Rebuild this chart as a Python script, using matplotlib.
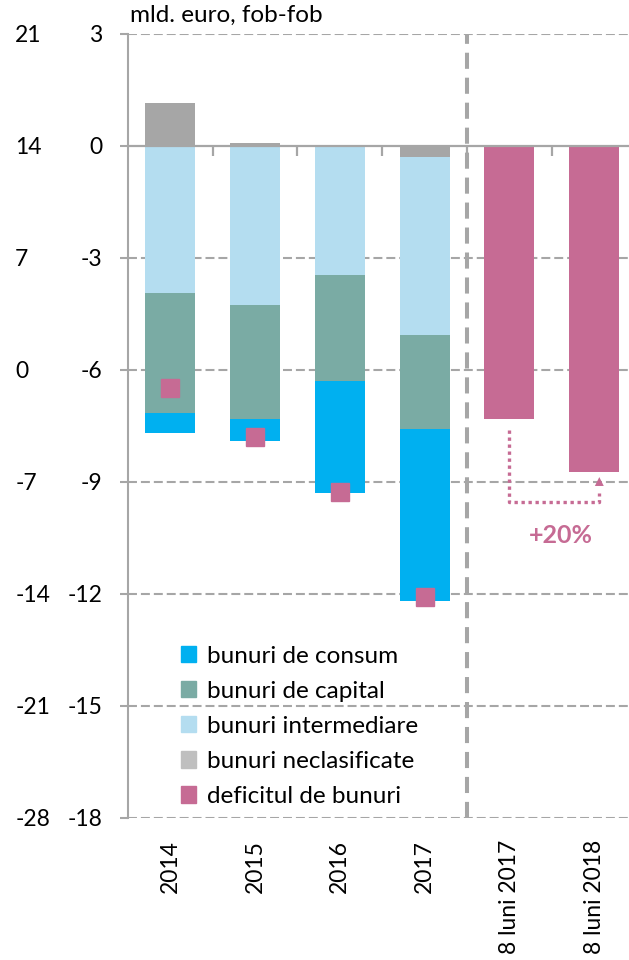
import numpy as np
import matplotlib
matplotlib.use("Agg")
import matplotlib.pyplot as plt
from matplotlib.patches import Patch

plt.rcParams['font.family'] = ['Lato', 'DejaVu Sans']
plt.rcParams['axes.unicode_minus'] = False

# categories
labels = ['2014', '2015', '2016', '2017', '8 luni 2017', '8 luni 2018']

# yearly components (mld. euro), stacked
neclasificate = [1.14, 0.07, 0.0, -0.30]
intermediare = [-3.94, -4.27, -3.46, -4.77]
capital = [-3.22, -3.05, -2.84, -2.52]
consum = [-0.53, -0.59, -3.00, -4.60]
deficit = [-6.49, -7.80, -9.27, -12.09]

# 8 months deficit
deficit_8luni = [-7.32, -8.75]
change_label = '+20%'

# outer (left) scale labels
outer_ticks = [-28, -21, -14, -7, 0, 7, 14, 21]

c_consum = '#00B0F0'
c_capital = '#7AABA4'
c_interm = '#B4DDF0'
c_necl = '#A6A6A6'
c_necl_leg = '#BFBFBF'
c_def = '#C66B94'
c_grid = '#A6A6A6'
fs = 16.5

W, H = 629, 960
fig = plt.figure(figsize=(W / 100, H / 100), dpi=100)
left, right, top, bottom = 127.7, 629, 33.5, 818
ax = fig.add_axes([left / W, 1 - bottom / H, (right - left) / W, (bottom - top) / H])

ymin, ymax = -18, 3
ax.set_ylim(ymin, ymax)
ax.set_xlim(-0.5, 5.41)

x = np.arange(len(neclasificate))
bw = 0.59

necl = np.array(neclasificate)
base = np.minimum(necl, 0)
ax.bar(x, necl, bw, color=c_necl, zorder=3)
ax.bar(x, intermediare, bw, bottom=base, color=c_interm, zorder=3)
base = base + np.array(intermediare)
ax.bar(x, capital, bw, bottom=base, color=c_capital, zorder=3)
base = base + np.array(capital)
ax.bar(x, consum, bw, bottom=base, color=c_consum, zorder=3)

x8 = np.arange(len(x), len(labels))
ax.bar(x8, deficit_8luni, bw, color=c_def, zorder=3)

ax.plot(x, deficit, 's', color=c_def, markersize=13, zorder=4)

# grid
for t in np.arange(ymin, ymax + 1, 3):
    if t != 0:
        ax.axhline(t, color=c_grid, lw=1.5, dashes=(4.3, 1.9), zorder=1)

# separator between years and 8 months
ax.axvline(len(x) - 0.5, color=c_grid, lw=2.9, dashes=(4, 2.2), zorder=2)

# zero line with category ticks
ax.axhline(0, color=c_grid, lw=1.6, zorder=4)
zero_pos = (0 - ymin) / (ymax - ymin)
sec = ax.secondary_xaxis(zero_pos)
sec.set_xticks(np.arange(0.5, len(labels) - 1))
sec.tick_params(axis='x', direction='out', length=7, width=1.6, color=c_grid,
                labelbottom=False, labeltop=False, bottom=True, top=False)
for s in sec.spines.values():
    s.set_visible(False)

for s in ['top', 'right', 'bottom']:
    ax.spines[s].set_visible(False)
ax.spines['left'].set_color(c_grid)
ax.spines['left'].set_linewidth(1.5)

ax.set_yticks(np.arange(ymin, ymax + 1, 3))
ax.tick_params(axis='y', length=6, width=1.5, color=c_grid, pad=12, labelsize=fs)
ax.set_xticks(np.arange(len(labels)))
ax.set_xticklabels(labels, rotation=90, va='top', ha='center')
ax.tick_params(axis='x', length=0, pad=16, labelsize=fs)

# outer scale
ax2 = ax.twinx()
ax2.set_ylim(outer_ticks[0], outer_ticks[-1])
ax2.yaxis.set_ticks_position('left')
ax2.set_yticks(outer_ticks)
ax2.tick_params(axis='y', length=0, pad=81, labelsize=fs)
for lab in ax2.get_yticklabels():
    lab.set_horizontalalignment('left')
for s in ax2.spines.values():
    s.set_visible(False)

ax.text(0.005, 1.01, 'mld. euro, fob-fob', transform=ax.transAxes, fontsize=17.5, va='bottom', ha='left')

# change arrow between the 8-month bars
x0, x1 = x8[0], x8[1] + 0.06
y_low = -9.55
ax.plot([x0, x0, x1, x1], [deficit_8luni[0] - 0.3, y_low, y_low, deficit_8luni[1] - 0.55],
        color=c_def, lw=2.4, linestyle=(0, (1, 1.1)), zorder=5)
ax.annotate('', xy=(x1, deficit_8luni[1] - 0.05), xytext=(x1, deficit_8luni[1] - 0.5),
            arrowprops=dict(arrowstyle='-|>', color=c_def, lw=0, mutation_scale=16), zorder=5)
ax.text((x0 + x1) / 2 + 0.08, y_low - 0.9, change_label, color=c_def, fontsize=18,
        fontweight='bold', ha='center', va='center')

handles = [Patch(color=c_consum), Patch(color=c_capital), Patch(color=c_interm),
           Patch(color=c_necl_leg), Patch(color=c_def)]
names = ['bunuri de consum', 'bunuri de capital', 'bunuri intermediare',
         'bunuri neclasificate', 'deficitul de bunuri']
ax.legend(handles, names, loc='upper left', bbox_to_anchor=(0.086, 0.232), frameon=False,
          fontsize=17.5, handlelength=0.65, handleheight=0.65, handletextpad=0.45,
          labelspacing=0.58, borderaxespad=0)

fig.savefig('out.png', dpi=100)
